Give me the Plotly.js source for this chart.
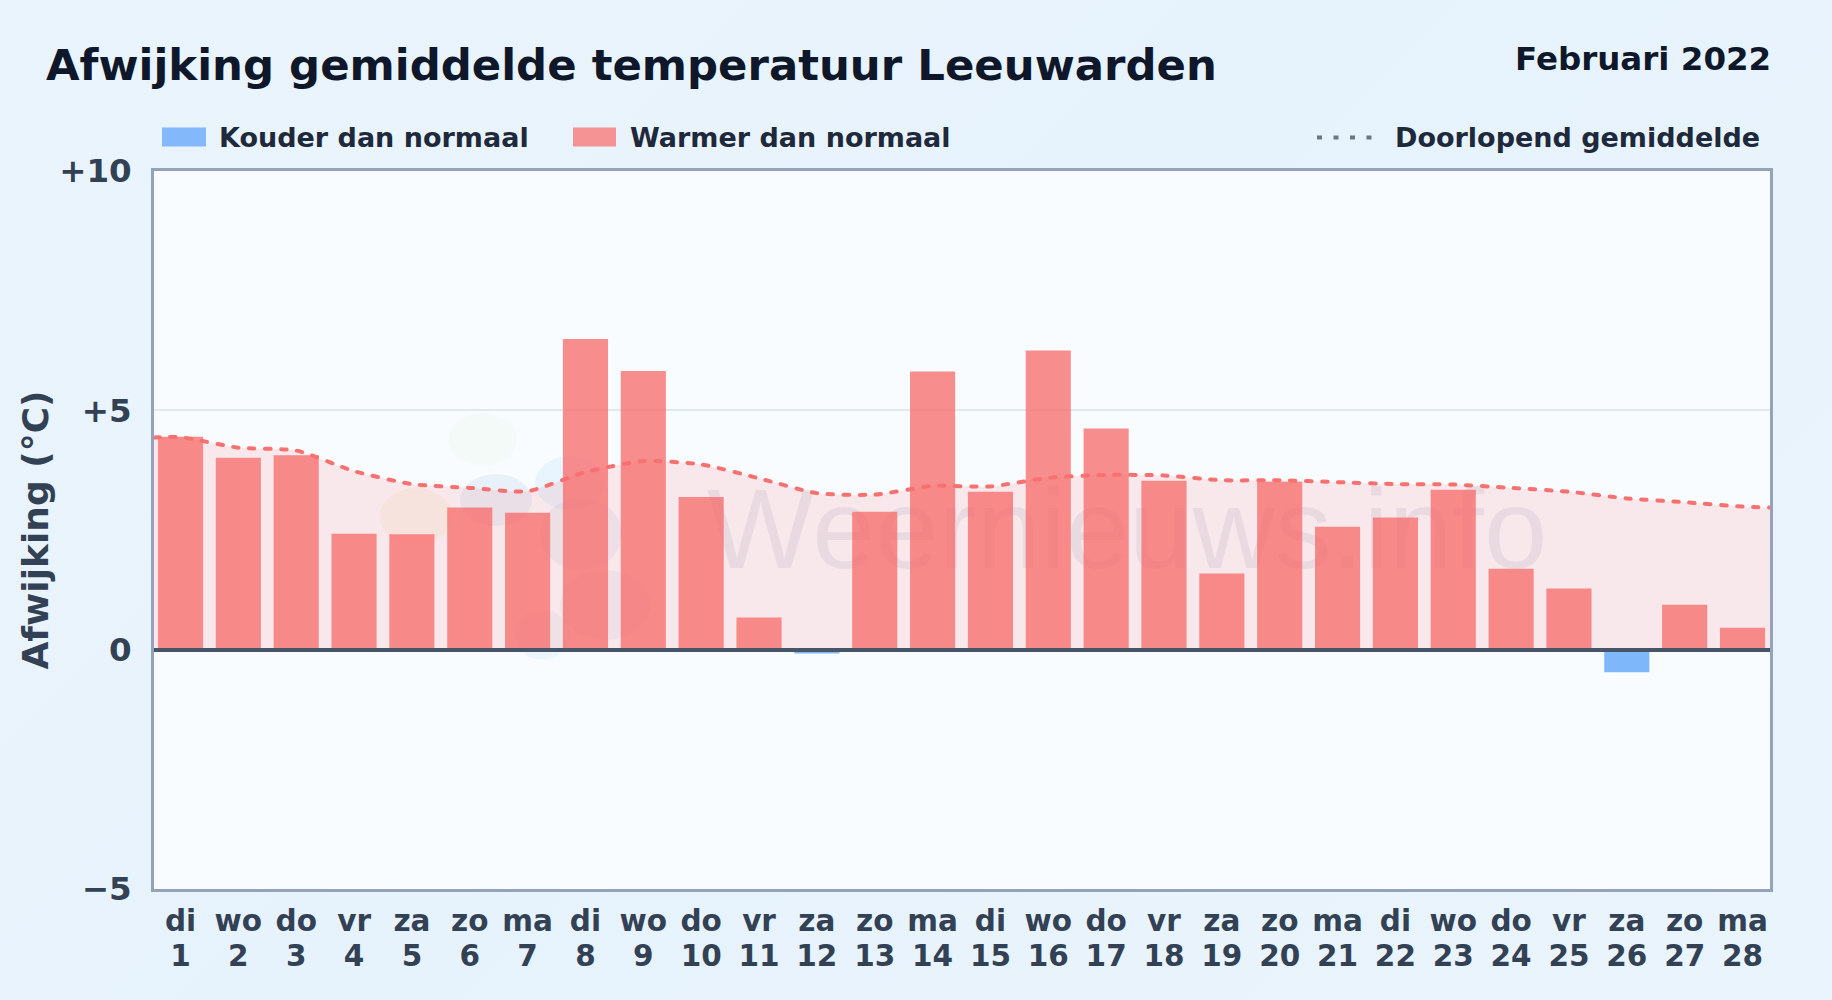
<!DOCTYPE html>
<html><head><meta charset="utf-8">
<script src="https://cdn.plot.ly/plotly-3.0.1.min.js"></script>
<style>
html,body{margin:0;padding:0;width:1832px;height:1000px;overflow:hidden;background:linear-gradient(135deg,#eaf4fc 0%,#e7f3fc 45%,#e9f4fc 100%);}
#chart{width:1832px;height:1000px;}
.scatterlayer .js-line{stroke-linecap:round;}
</style></head><body><div id="chart"></div>
<script>
const days=['di','wo','do','vr','za','zo','ma','di','wo','do','vr','za','zo','ma','di','wo','do','vr','za','zo','ma','di','wo','do','vr','za','zo','ma'];
const dayNums=[1,2,3,4,5,6,7,8,9,10,11,12,13,14,15,16,17,18,19,20,21,22,23,24,25,26,27,28];
const deviation=[4.45,4.01,4.06,2.42,2.41,2.97,2.86,6.49,5.82,3.19,0.67,-0.08,2.88,5.81,3.30,6.25,4.62,3.53,1.59,3.51,2.57,2.76,3.34,1.69,1.28,-0.47,0.94,0.46];
const runningX=[0.542,1,2,3,4,5,6,7,8,9,10,11,12,13,14,15,16,17,18,19,20,21,22,23,24,25,26,27,28,28.475];
const runningMean=[4.43,4.44,4.22,4.16,3.73,3.46,3.38,3.31,3.71,3.94,3.87,3.58,3.27,3.24,3.42,3.41,3.59,3.65,3.64,3.54,3.54,3.50,3.46,3.45,3.38,3.30,3.16,3.08,2.99,2.97];
const yTickVals=[-5,0,5,10];
const yTickText=['\u22125','0','+5','+10'];
const xRange=[0.542,28.475];
const labels={title:'Afwijking gemiddelde temperatuur Leeuwarden',period:'Februari 2022',cold:'Kouder dan normaal',warm:'Warmer dan normaal',mean:'Doorlopend gemiddelde',y:'Afwijking (°C)',mark:'Weernieuws.info'};
const FONT='"DejaVu Sans", sans-serif';
const PL=154,PR=1770,PT=170.6,PB=889.4;
const fx=p=>(p-PL)/(PR-PL), fy=p=>1-(p-PT)/(PB-PT);
const traces=[
 {type:'scatter',mode:'lines',xaxis:'x2',x:runningX,y:runningMean,name:labels.mean,fill:'tozeroy',fillcolor:'rgba(248,113,113,0.14)',line:{color:'rgba(248,113,113,0)',width:0,shape:'spline',smoothing:0.6},hoverinfo:'skip',showlegend:false},
 {type:'bar',x:dayNums.filter((d,i)=>deviation[i]>=0),y:deviation.filter(v=>v>=0),name:labels.warm,width:0.78,marker:{color:'rgba(248,113,113,0.8)',line:{width:0}}},
 {type:'bar',x:dayNums.filter((d,i)=>deviation[i]<0),y:deviation.filter(v=>v<0),name:labels.cold,width:0.78,marker:{color:'rgba(96,165,250,0.8)',line:{width:0}}},
 {type:'scatter',mode:'lines',xaxis:'x2',x:runningX,y:runningMean,name:labels.mean,line:{color:'#f87171',width:4,dash:'5.5px,10.5px',shape:'spline',smoothing:0.6}}
];
const paperShape=(type,x0,x1,y0,y1,extra)=>Object.assign({type,xref:'paper',yref:'paper',x0:fx(x0),x1:fx(x1),y0:fy(y0),y1:fy(y1),line:{width:0}},extra);
const legendShapes=[
 paperShape('rect',162,206,127,146,{fillcolor:'rgba(96,165,250,0.75)'}),
 paperShape('rect',573,616,127,146,{fillcolor:'rgba(248,113,113,0.75)'}),
 paperShape('line',1317,1375,137,137,{line:{color:'#6b7785',width:4,dash:'5px,11.5px'}})
];
const wm=[
 paperShape('circle',448,517,413,466,{fillcolor:'rgba(190,230,150,0.08)',layer:'below'}),
 paperShape('circle',380,452,488,545,{fillcolor:'rgba(250,200,110,0.10)',layer:'below'}),
 paperShape('circle',460,532,474,526,{fillcolor:'rgba(80,130,200,0.09)',layer:'below'}),
 paperShape('circle',535,605,456,510,{fillcolor:'rgba(110,190,245,0.11)',layer:'below'}),
 paperShape('circle',540,622,498,570,{fillcolor:'rgba(80,110,190,0.07)',layer:'below'}),
 paperShape('circle',560,650,570,640,{fillcolor:'rgba(80,110,190,0.06)',layer:'below'}),
 paperShape('circle',515,570,610,660,{fillcolor:'rgba(110,170,220,0.08)',layer:'below'}),
 paperShape('rect',627,1627,457,577,{fillcolor:'rgba(0,0,0,0)',layer:'below',label:{text:labels.mark,textposition:'middle center',font:{family:'"Liberation Sans", sans-serif',size:114,color:'rgba(90,100,160,0.10)',weight:400}}})
];
const note=(text,x,y,anchor,size,color)=>({xref:'paper',yref:'paper',x:fx(x),y:fy(y),xanchor:anchor,yanchor:'middle',showarrow:false,text,borderpad:0,font:{family:FONT,size,weight:700,color}});
const layout={
 width:1832,height:1000,paper_bgcolor:'rgba(0,0,0,0)',plot_bgcolor:'#f8fcff',
 margin:{l:PL,r:1832-PR,t:PT,b:1000-PB,pad:0},barmode:'overlay',showlegend:false,font:{family:FONT,color:'#334155'},
 xaxis:{type:'linear',range:xRange,tickmode:'array',tickvals:dayNums,ticktext:days,ticks:'',ticklabelstandoff:4,showgrid:false,zeroline:false,showline:true,linecolor:'#94a3b8',linewidth:2.6,mirror:true,tickfont:{family:FONT,size:29.5,weight:700,color:'#334155'}},
 xaxis2:{type:'linear',overlaying:'x',side:'bottom',anchor:'y',range:xRange,tickmode:'array',tickvals:dayNums,ticktext:dayNums.map(String),ticks:'',ticklabelstandoff:46,showgrid:false,zeroline:false,showline:false,tickfont:{family:FONT,size:29.5,weight:700,color:'#334155'}},
 yaxis:{range:[-5,10],tickmode:'array',tickvals:yTickVals,ticktext:yTickText,ticks:'',ticklabelstandoff:13,showgrid:true,gridcolor:'#e2e8f0',gridwidth:1.5,zeroline:true,zerolinelayer:'above traces',zerolinecolor:'#475569',zerolinewidth:3.5,showline:true,linecolor:'#94a3b8',linewidth:2.6,mirror:true,tickfont:{family:FONT,size:32.5,weight:700,color:'#334155'},title:{text:labels.y,standoff:0,font:{family:FONT,size:36,weight:700,color:'#334155'}}},
 shapes:legendShapes.concat(wm),
 annotations:[
  note(labels.title,45,64,'left',43.4,'#0f172a'),
  note(labels.period,1772,58.5,'right',32.5,'#0f172a'),
  note(labels.cold,218,137,'left',27,'#1e293b'),
  note(labels.warm,629,137,'left',27,'#1e293b'),
  note(labels.mean,1394,137,'left',27,'#1e293b')
 ]
};
Plotly.newPlot('chart',traces,layout,{displayModeBar:false,responsive:false});
</script></body></html>
